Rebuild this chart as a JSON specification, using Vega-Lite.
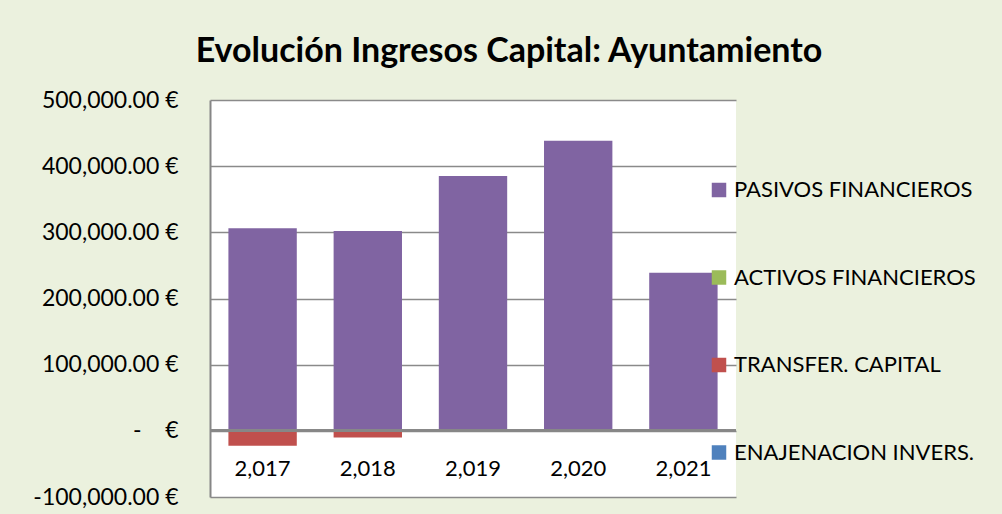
{
  "$schema": "https://vega.github.io/schema/vega-lite/v6.json",
  "width": 526,
  "height": 397,
  "autosize": {"type": "none"},
  "padding": {"left": 210, "top": 100, "right": 266, "bottom": 17},
  "background": "#EBF1DE",
  "title": {
    "text": "Evolución Ingresos Capital: Ayuntamiento",
    "font": "Lato",
    "fontSize": 34,
    "fontWeight": "bold",
    "color": "#000000",
    "anchor": "middle",
    "dx": 36,
    "offset": 20
  },
  "data": {
    "values": [
      {"year": 2017, "serie": "PASIVOS FINANCIEROS", "value": 306000},
      {"year": 2018, "serie": "PASIVOS FINANCIEROS", "value": 302000},
      {"year": 2019, "serie": "PASIVOS FINANCIEROS", "value": 385000},
      {"year": 2020, "serie": "PASIVOS FINANCIEROS", "value": 438500},
      {"year": 2021, "serie": "PASIVOS FINANCIEROS", "value": 239000},
      {"year": 2017, "serie": "ACTIVOS FINANCIEROS", "value": 0},
      {"year": 2018, "serie": "ACTIVOS FINANCIEROS", "value": 0},
      {"year": 2019, "serie": "ACTIVOS FINANCIEROS", "value": 0},
      {"year": 2020, "serie": "ACTIVOS FINANCIEROS", "value": 0},
      {"year": 2021, "serie": "ACTIVOS FINANCIEROS", "value": 0},
      {"year": 2017, "serie": "TRANSFER. CAPITAL", "value": -22500},
      {"year": 2018, "serie": "TRANSFER. CAPITAL", "value": -10000},
      {"year": 2019, "serie": "TRANSFER. CAPITAL", "value": 0},
      {"year": 2020, "serie": "TRANSFER. CAPITAL", "value": 0},
      {"year": 2021, "serie": "TRANSFER. CAPITAL", "value": 0},
      {"year": 2017, "serie": "ENAJENACION INVERS.", "value": 0},
      {"year": 2018, "serie": "ENAJENACION INVERS.", "value": 0},
      {"year": 2019, "serie": "ENAJENACION INVERS.", "value": 0},
      {"year": 2020, "serie": "ENAJENACION INVERS.", "value": 0},
      {"year": 2021, "serie": "ENAJENACION INVERS.", "value": 0}
    ]
  },
  "layer": [
    {
      "mark": {"type": "bar"},
      "encoding": {
        "x": {
          "field": "year",
          "type": "ordinal",
          "scale": {"paddingInner": 0.35, "paddingOuter": 0.175},
          "axis": {
            "title": null,
            "labelExpr": "format(datum.value, ',')",
            "labelAngle": 0,
            "labelFont": "Lato",
            "labelFontSize": 22,
            "labelColor": "#000000",
            "labelBaseline": "alphabetic",
            "labelPadding": -22,
            "ticks": false,
            "domain": false
          }
        },
        "y": {
          "field": "value",
          "type": "quantitative",
          "stack": "zero",
          "scale": {"domain": [-100000, 500000], "nice": false},
          "axis": {
            "title": null,
            "values": [-100000, 0, 100000, 200000, 300000, 400000, 500000],
            "labelExpr": "datum.value == 0 ? '-\u00a0\u00a0\u00a0\u00a0€' : replace(format(datum.value, ',.2f'), '−', '-') + ' €'",
            "labelFont": "Lato",
            "labelFontSize": 23,
            "labelColor": "#000000",
            "labelPadding": 32,
            "ticks": false,
            "domain": true,
            "domainColor": "#868686",
            "domainWidth": 2,
            "grid": true,
            "gridColor": "#8a8a8a",
            "gridWidth": 1.5
          }
        },
        "color": {
          "field": "serie",
          "type": "nominal",
          "scale": {
            "domain": ["PASIVOS FINANCIEROS", "ACTIVOS FINANCIEROS", "TRANSFER. CAPITAL", "ENAJENACION INVERS."],
            "range": ["#8064A2", "#9BBB59", "#C0504D", "#4F81BD"]
          },
          "legend": {
            "title": null,
            "orient": "none",
            "legendX": 498,
            "legendY": 79,
            "direction": "vertical",
            "padding": 0,
            "symbolType": "square",
            "symbolSize": 210,
            "symbolStrokeWidth": 0,
            "symbolOpacity": 1,
            "labelFont": "Lato",
            "labelFontSize": 22,
            "labelColor": "#000000",
            "labelOffset": 4,
            "rowPadding": 65.5,
            "labelLimit": 400
          }
        },
        "order": {"field": "serie"}
      }
    },
    {
      "mark": {"type": "rule", "color": "#878787", "strokeWidth": 2.5},
      "encoding": {"y": {"datum": 0}}
    }
  ],
  "config": {
    "view": {"fill": "#FFFFFF", "stroke": null}
  }
}
